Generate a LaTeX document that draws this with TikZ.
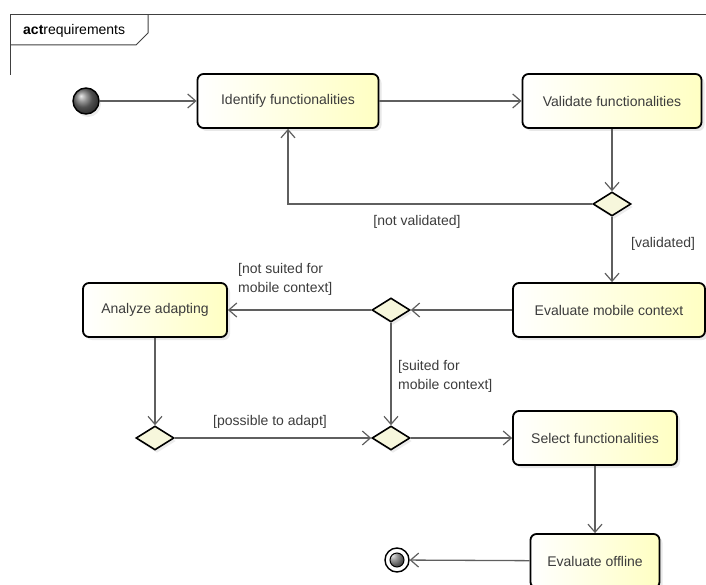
\documentclass[tikz,border=0pt]{standalone}
\usepackage{fontspec}
\setmainfont{Liberation Sans}
\definecolor{boxyellow}{RGB}{255, 255, 195}
\definecolor{diamondfill}{RGB}{247, 247, 220}
\definecolor{flowgray}{RGB}{95, 95, 95}
\definecolor{textgray}{RGB}{60, 60, 60}
\usetikzlibrary{shapes.geometric,arrows.meta,shadows}

\begin{document}
\begin{tikzpicture}[x=1pt, y=-1pt,
    font=\fontsize{14}{19}\selectfont,
    action/.style={rectangle, rounded corners=6pt, draw=black, line width=1.8pt,
        left color=white, right color=boxyellow, minimum height=54pt, text=textgray,
        drop shadow={shadow xshift=3pt, shadow yshift=-3pt, fill=black!18}},
    decision/.style={diamond, draw=black, line width=1.6pt, fill=diamondfill,
        minimum width=38pt, minimum height=24pt, inner sep=0pt,
        drop shadow={shadow xshift=2pt, shadow yshift=-3pt, fill=black!15}},
    flow/.style={draw=flowgray, line width=1.3pt,
        -{Straight Barb[length=8pt, width=14pt, line width=1.2pt]}},
    guard/.style={text=textgray, align=left, inner sep=0pt}]
    \useasboundingbox (0,0) rectangle (706,585);

    % frame
    \draw[line width=1pt, black!75] (10,75) -- (10,15) -- (706,15);
    \draw[line width=1pt, black!75] (10,45) -- (136,45) -- (148,33) -- (148,15);
    \node[anchor=west, inner sep=0pt] (frametitle) at (23,31) {\textbf{act}requirements};

    % start and end
    \node[circle, draw=black, line width=1.4pt, minimum size=26pt, inner sep=0pt,
        ball color=black!55, drop shadow={shadow xshift=2pt, shadow yshift=-3pt, fill=black!15}] (start) at (86,101) {};
    \node[circle, draw=black, line width=1.4pt, minimum size=24pt, inner sep=0pt, fill=white,
        path picture={\shadedraw[ball color=black!55, line width=1pt] (path picture bounding box.center) circle (7pt);}] (stop) at (397,560) {};

    % actions
    \node[action, minimum width=181pt] (identify) at (288,101) {Identify functionalities};
    \node[action, minimum width=179pt] (validate) at (612,101) {Validate functionalities};
    \node[action, minimum width=192pt] (mobile) at (609,310) {Evaluate mobile context};
    \node[action, minimum width=144pt] (analyze) at (155,310) {Analyze adapting};
    \node[action, minimum width=164pt] (select) at (595,438) {Select functionalities};
    \node[action, minimum width=129pt] (offline) at (595,561) {Evaluate offline};

    % decisions
    \node[decision] (validcheck) at (612,204) {};
    \node[decision] (mobilecheck) at (391,310) {};
    \node[decision] (adaptcheck) at (155,438) {};
    \node[decision] (merge) at (391,438) {};

    % flows
    \draw[flow] (start) -- (identify);
    \draw[flow] (identify) -- (validate);
    \draw[flow] (validate) -- (validcheck);
    \draw[flow] (validcheck.west) -| (identify.south);
    \draw[flow] (validcheck.south) -- (validcheck.south |- mobile.north);
    \draw[flow] (mobile) -- (mobilecheck);
    \draw[flow] (mobilecheck) -- (analyze);
    \draw[flow] (mobilecheck) -- (merge);
    \draw[flow] (analyze) -- (adaptcheck);
    \draw[flow] (adaptcheck) -- (merge);
    \draw[flow] (merge) -- (select);
    \draw[flow] (select) -- (offline);
    \draw[flow] (offline) -- (stop);

    % guards
    \node[guard] (notvalid) at (417,222) {[not validated]};
    \node[guard, anchor=west] (valid) at (631,244) {[validated]};
    \node[guard, anchor=west] (notsuited) at (238,279) {[not suited for\\mobile context]};
    \node[guard, anchor=west] (suited) at (398,376) {[suited for\\mobile context]};
    \node[guard] (possible) at (270,422) {[possible to adapt]};
\end{tikzpicture}
\end{document}
